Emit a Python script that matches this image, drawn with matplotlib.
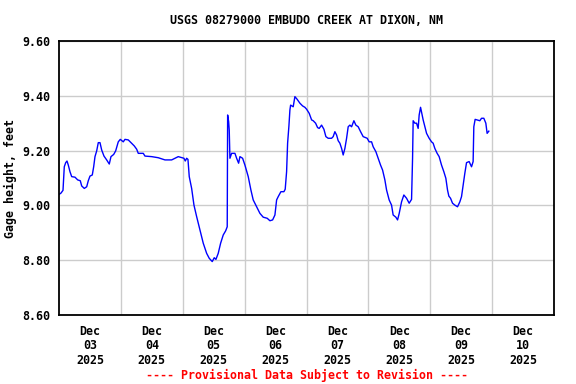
import matplotlib
matplotlib.use("Agg")
import matplotlib.pyplot as plt
import numpy as np
import pandas as pd

# Hours since 2025-12-03 00:00 and gage height (feet)
hours = [0.0, 0.78, 1.55, 2.05, 2.60, 3.10, 3.61, 4.26, 4.92, 6.20, 7.25, 8.26, 8.80, 9.81,
         10.74, 11.36, 12.02, 12.91, 13.45, 13.96, 14.62, 15.24, 15.90, 16.56, 17.45, 18.49,
         19.50, 20.16, 21.21, 21.98, 22.99, 23.77, 24.93, 25.59, 26.87, 27.92, 29.20, 30.13,
         30.75, 32.69, 33.34, 35.94, 38.50, 41.10, 43.70, 46.26, 48.47, 48.97, 49.51, 50.02,
         50.52, 51.45, 52.35, 53.39, 54.67, 55.95, 57.27, 58.27, 59.44, 60.21, 60.87, 61.76,
         62.69, 63.70, 64.63, 65.25, 65.41, 65.80, 66.03, 66.30, 66.96, 68.24, 68.90, 69.67,
         70.18, 71.22, 72.12, 73.40, 74.44, 75.33, 76.65, 77.93, 79.21, 80.76, 81.81, 82.86,
         83.75, 84.41, 85.03, 86.07, 87.24, 87.74, 88.28, 88.67, 89.18, 89.56, 89.84, 90.84,
         91.50, 92.39, 93.44, 94.49, 95.38, 96.04, 97.05, 97.98, 98.60, 99.53, 100.30, 100.92,
         101.85, 102.75, 103.52, 104.41, 105.73, 106.35, 107.01, 107.67, 108.29, 108.95,
         109.61, 110.23, 110.89, 111.55, 112.17, 112.83, 113.49, 114.38, 115.15, 116.05,
         116.98, 117.98, 119.54, 120.31, 121.24, 121.86, 122.91, 123.80, 124.73, 125.51,
         126.40, 127.06, 128.06, 128.99, 129.61, 130.66, 131.32, 131.94, 132.87, 133.76,
         134.81, 135.82, 136.75, 137.14, 137.37, 138.03, 138.69, 139.31, 139.70, 140.24,
         140.74, 141.25, 141.91, 142.57, 143.57, 144.50, 145.12, 145.78, 146.67, 147.45,
         148.38, 149.27, 150.05, 150.70, 151.21, 151.87, 152.64, 153.54, 154.58, 155.48,
         156.13, 156.75, 157.41, 158.07, 159.08, 160.01, 160.63, 160.90, 161.41, 162.18,
         163.23, 163.89, 164.78, 165.56, 166.06, 166.72]
gage = [9.040, 9.045, 9.055, 9.141, 9.156, 9.162, 9.147, 9.123, 9.105, 9.103, 9.093, 9.090,
        9.071, 9.062, 9.068, 9.090, 9.107, 9.111, 9.141, 9.178, 9.199, 9.229, 9.229, 9.202,
        9.180, 9.166, 9.151, 9.178, 9.186, 9.199, 9.232, 9.241, 9.232, 9.241, 9.239, 9.229,
        9.217, 9.205, 9.190, 9.190, 9.180, 9.178, 9.174, 9.166, 9.166, 9.178, 9.172, 9.162,
        9.172, 9.168, 9.105, 9.062, 9.001, 8.959, 8.910, 8.862, 8.825, 8.807, 8.795, 8.809,
        8.803, 8.825, 8.862, 8.892, 8.907, 8.922, 9.330, 9.306, 9.275, 9.172, 9.190, 9.190,
        9.172, 9.154, 9.178, 9.172, 9.147, 9.105, 9.056, 9.020, 8.995, 8.971, 8.957, 8.953,
        8.944, 8.947, 8.965, 9.020, 9.032, 9.050, 9.050, 9.059, 9.123, 9.227, 9.290, 9.348,
        9.366, 9.360, 9.397, 9.387, 9.373, 9.363, 9.358, 9.351, 9.336, 9.312, 9.309, 9.300,
        9.284, 9.281, 9.293, 9.278, 9.251, 9.245, 9.245, 9.251, 9.269, 9.257, 9.236, 9.227,
        9.208, 9.184, 9.208, 9.245, 9.287, 9.293, 9.287, 9.309, 9.293, 9.287, 9.269, 9.251,
        9.245, 9.232, 9.232, 9.214, 9.196, 9.172, 9.147, 9.129, 9.093, 9.056, 9.020, 9.001,
        8.965, 8.957, 8.947, 8.970, 9.013, 9.038, 9.026, 9.008, 9.022, 9.172, 9.309, 9.300,
        9.300, 9.281, 9.330, 9.358, 9.336, 9.312, 9.287, 9.263, 9.245, 9.232, 9.227, 9.208,
        9.190, 9.178, 9.147, 9.123, 9.099, 9.056, 9.034, 9.026, 9.008, 9.001, 8.995, 9.013,
        9.032, 9.074, 9.117, 9.156, 9.160, 9.141, 9.160, 9.287, 9.314, 9.312, 9.309, 9.318,
        9.318, 9.300, 9.263, 9.271]

y_ticks = [8.60, 8.80, 9.00, 9.20, 9.40, 9.60]
day_labels = ["Dec\n03\n2025", "Dec\n04\n2025", "Dec\n05\n2025", "Dec\n06\n2025",
              "Dec\n07\n2025", "Dec\n08\n2025", "Dec\n09\n2025", "Dec\n10\n2025"]
title = "USGS 08279000 EMBUDO CREEK AT DIXON, NM"
ylabel = "Gage height, feet"
footer = "---- Provisional Data Subject to Revision ----"

start = pd.Timestamp("2025-12-03 00:00")
times = start + pd.to_timedelta(hours, unit="h")

font = "DejaVu Sans Mono"
fs = 8.4

fig = plt.figure(figsize=(5.76, 3.84), dpi=100)
ax = fig.add_axes([59/576, 1-315/384, (554-59)/576, (315-41)/384])

ax.plot(times, gage, color="#0000ff", linewidth=1.0)

ax.set_xlim(start, start + pd.Timedelta(days=8))
ax.set_ylim(8.60, 9.60)

major = [start + pd.Timedelta(days=i) for i in range(1, 8)]
minor = [start + pd.Timedelta(hours=12 + 24*i) for i in range(8)]
ax.set_xticks(major)
ax.set_xticklabels([""] * len(major))
ax.set_xticks(minor, minor=True)
ax.set_xticklabels(day_labels, minor=True, fontfamily=font, fontweight="bold",
                   fontsize=fs, linespacing=1.15)
ax.set_yticks(y_ticks)
ax.set_yticklabels([f"{v:.2f}" for v in y_ticks], fontfamily=font,
                   fontweight="bold", fontsize=fs)

ax.tick_params(axis="both", which="both", length=0)
ax.tick_params(axis="x", which="minor", pad=7)
ax.tick_params(axis="y", pad=6)

ax.grid(True, which="major", color="#cccccc", linewidth=1.0)
ax.set_axisbelow(True)
for s in ax.spines.values():
    s.set_linewidth(1.3)
    s.set_color("black")

ax.set_ylabel(ylabel, fontfamily=font, fontweight="bold", fontsize=fs, labelpad=4)
ax.set_title(title, fontfamily=font, fontweight="bold", fontsize=fs, pad=12)
ax.text(0.5, -0.219, footer, transform=ax.transAxes, ha="center", va="center",
        color="red", fontfamily=font, fontweight="bold", fontsize=fs)

fig.savefig("out.png", dpi=100)
